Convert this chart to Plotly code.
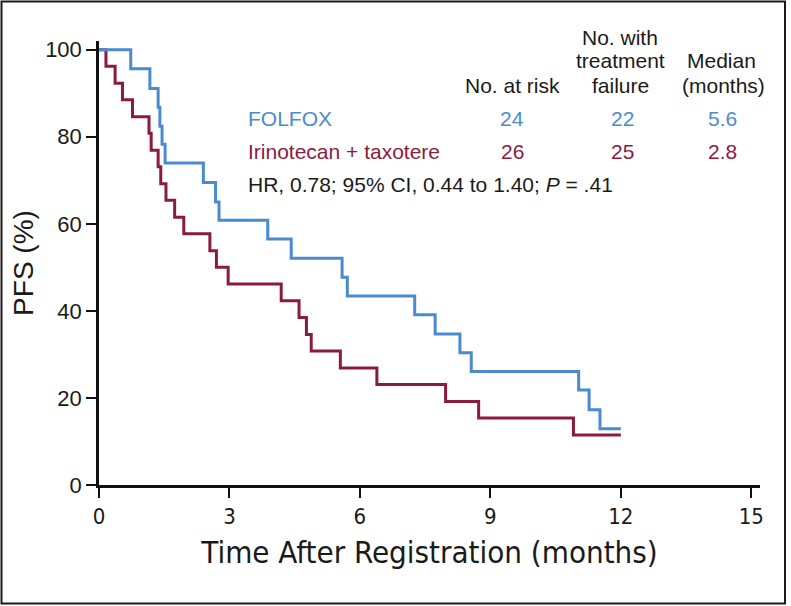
import plotly.graph_objects as go

# ---- data ----
folfox_t = [0, 0.73, 1.17, 1.36, 1.40, 1.45, 1.52, 2.40, 2.68, 2.76, 3.88, 4.42, 5.59, 5.71,
            7.26, 7.73, 8.30, 8.56, 11.03, 11.27, 11.52, 12.0]
folfox_s = [100, 95.6, 91.1, 86.8, 82.4, 78.3, 74.0, 69.5, 65.0, 60.8, 56.5, 52.1, 47.7, 43.4,
            39.1, 34.7, 30.4, 26.1, 21.8, 17.3, 12.9, 12.9]
irino_t = [0, 0.16, 0.37, 0.54, 0.77, 1.15, 1.20, 1.36, 1.42, 1.54, 1.74, 1.95, 2.55, 2.70,
           2.97, 4.19, 4.60, 4.77, 4.88, 5.55, 6.39, 7.97, 8.73, 10.91, 12.0]
irino_s = [100, 96.2, 92.3, 88.5, 84.6, 80.8, 76.9, 73.1, 69.2, 65.4, 61.5, 57.7, 53.8, 50.0,
           46.2, 42.3, 38.5, 34.6, 30.8, 26.9, 23.1, 19.2, 15.4, 11.5, 11.5]

arm_names = ["FOLFOX", "Irinotecan + taxotere"]
no_at_risk = ["24", "26"]
no_failure = ["22", "25"]
median_months = ["5.6", "2.8"]
hr_text = "HR, 0.78; 95% CI, 0.44 to 1.40; <i>P</i> = .41"

x_ticks = [0, 3, 6, 9, 12, 15]
y_ticks = [0, 20, 40, 60, 80, 100]

BLUE = "#4a8bd0"
RED = "#8c1a3f"
FONT = "Liberation Sans, Arial, sans-serif"
NARROW = "Liberation Sans Narrow, Arial Narrow, DejaVu Sans Condensed, sans-serif"

W, H = 791, 606
L, R, T, B = 99, 31, 41, 121
PW, PH = W - L - R, H - T - B


def px(x):
    return (x - L) / PW


def py(y):
    return (H - B - y) / PH


fig = go.Figure()
fig.add_trace(go.Scatter(x=irino_t, y=irino_s, mode="lines", line=dict(color=RED, width=3, shape="hv"),
                         showlegend=False, cliponaxis=False))
fig.add_trace(go.Scatter(x=folfox_t, y=folfox_s, mode="lines", line=dict(color=BLUE, width=3, shape="hv"),
                         showlegend=False, cliponaxis=False))

ann = []


def add(text, x, y, color="#1a1a1a", anchor="center"):
    ann.append(dict(text=text, x=px(x), y=py(y), xref="paper", yref="paper", showarrow=False,
                    xanchor=anchor, yanchor="middle", font=dict(family=FONT, size=21, color=color)))


add("No. with", 620, 37)
add("treatment", 620, 61)
add("Median", 721, 61)
add("No. at risk", 512, 85)
add("failure", 620, 85)
add("(months)", 723, 85)
colors = [BLUE, RED]
rows_y = [118, 151]
for i in range(2):
    add(arm_names[i], 246, rows_y[i], colors[i], "left")
    add(no_at_risk[i], 512, rows_y[i], colors[i])
    add(no_failure[i], 622, rows_y[i], colors[i])
    add(median_months[i], 722, rows_y[i], colors[i])
add(hr_text, 246, 184, "#1a1a1a", "left")

fig.update_layout(
    width=W, height=H,
    margin=dict(l=L, r=R, t=T, b=B),
    paper_bgcolor="white", plot_bgcolor="white",
    annotations=ann,
    shapes=[dict(type="rect", xref="paper", yref="paper",
                 x0=px(1.5), x1=px(785), y0=py(603.5), y1=py(1.5),
                 line=dict(color="#1a1a1a", width=2), fillcolor="rgba(0,0,0,0)")],
    xaxis=dict(range=[0, 15.2], tickvals=x_ticks, ticktext=[str(v) for v in x_ticks],
               automargin=False,
               showgrid=False, zeroline=False, showline=True, linecolor="#111", linewidth=2.5,
               ticks="outside", ticklen=10, tickwidth=2, tickcolor="#111",
               tickfont=dict(family=NARROW, size=22, color="#1a1a1a"),
               title=dict(text="Time After Registration (months)", standoff=14,
                          font=dict(family=NARROW, size=31, color="#1a1a1a"))),
    yaxis=dict(range=[0, 102], tickvals=y_ticks, ticktext=[str(v) for v in y_ticks],
               automargin=False,
               showgrid=False, zeroline=False, showline=True, linecolor="#111", linewidth=2.5,
               ticks="outside", ticklen=10, tickwidth=2, tickcolor="#111",
               tickfont=dict(family=FONT, size=22, color="#1a1a1a"),
               title=dict(text="PFS (%)", standoff=4,
                          font=dict(family=FONT, size=28, color="#1a1a1a"))),
)

fig.write_html("out.html", config={"displayModeBar": False},
               post_script="document.body.style.margin='0';document.body.style.overflow='hidden';")
